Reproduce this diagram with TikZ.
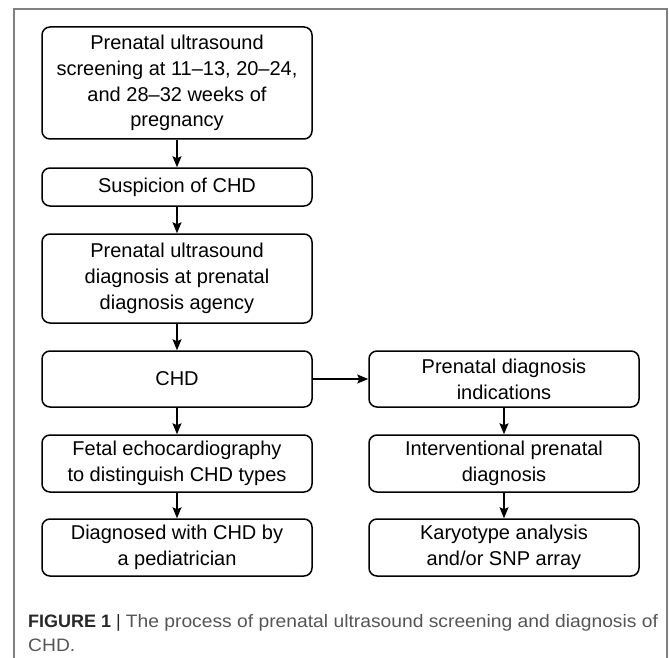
\documentclass[tikz,border=0pt]{standalone}
\usepackage{fontspec}
\setmainfont{Liberation Sans}
\newfontfamily\captfont[FakeStretch=1.07]{Liberation Sans}
\usetikzlibrary{arrows.meta}
\definecolor{framegray}{RGB}{128,128,128}
\definecolor{captdark}{RGB}{40,40,40}
\definecolor{captgray}{RGB}{85,85,85}
\tikzset{
  box/.style={draw, line width=1.5pt, rounded corners=8pt, minimum width=270pt,
    align=center, inner sep=0pt, font=\fontsize{20}{25.7}\selectfont},
  arr/.style={-{Stealth[length=11pt,width=9pt,inset=2pt]}, line width=1.4pt},
  capt/.style={anchor=base west, inner sep=0pt, text=captgray,
    font=\fontsize{18}{22}\selectfont},
}
\begin{document}
\begin{tikzpicture}[x=1pt,y=-1pt]
  \useasboundingbox (0,0) rectangle (669,658);
  % Frame
  \draw[framegray, line width=1.5pt] (14,658) -- (14,9) -- (667,9) -- (667,658);

  % Left column
  \node[box, minimum height=112pt] (screen) at (177,83) {Prenatal ultrasound\\screening at 11--13, 20--24,\\and 28--32 weeks of\\pregnancy};
  \node[box, minimum height=38pt] (suspect) at (177,187) {Suspicion of CHD};
  \node[box, minimum height=89pt] (usdiag) at (177,278.5) {Prenatal ultrasound\\diagnosis at prenatal\\diagnosis agency};
  \node[box, minimum height=56pt] (chd) at (177,379) {CHD};
  \node[box, minimum height=57pt] (echo) at (177,463.5) {Fetal echocardiography\\to distinguish CHD types};
  \node[box, minimum height=57pt] (pedia) at (177,547.5) {Diagnosed with CHD by\\a pediatrician};

  % Right column
  \node[box, minimum height=56pt] (indic) at (504,379) {Prenatal diagnosis\\indications};
  \node[box, minimum height=57pt] (interv) at (504,463.5) {Interventional prenatal\\diagnosis};
  \node[box, minimum height=57pt] (karyo) at (504,547.5) {Karyotype analysis\\and/or SNP array};

  % Arrows
  \draw[arr] (screen) -- (suspect);
  \draw[arr] (suspect) -- (usdiag);
  \draw[arr] (usdiag) -- (chd);
  \draw[arr] (chd) -- (echo);
  \draw[arr] (echo) -- (pedia);
  \draw[arr] (chd) -- (indic);
  \draw[arr] (indic) -- (interv);
  \draw[arr] (interv) -- (karyo);

  % Caption
  \node[capt] (cap1) at (28,627) {\textcolor{captdark}{\textbf{FIGURE 1} |} {\captfont The process of prenatal ultrasound screening and diagnosis of}};
  \node[capt] (cap2) at (28,651) {{\captfont CHD.}};
\end{tikzpicture}
\end{document}
